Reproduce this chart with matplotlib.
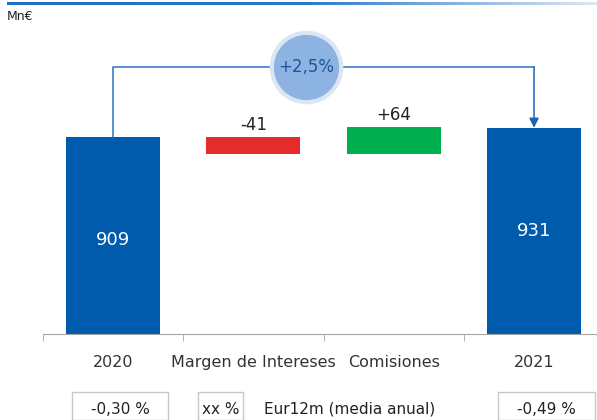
import matplotlib.pyplot as plt
import numpy as np
from matplotlib.patches import Rectangle
from matplotlib.colors import LinearSegmentedColormap

categories = ["2020", "Margen de Intereses", "Comisiones", "2021"]
start_value = 909
changes = [-41, 64]
end_value = 931
change_labels = ["-41", "+64"]
growth_label = "+2,5%"
unit_label = "Mn€"
rate_labels = ["-0,30 %", "-0,49 %"]
legend_box = "xx %"
legend_text = "Eur12m (media anual)"

blue = "#005BAC"
red = "#E52B2B"
green = "#00B050"
line_blue = "#2A72C3"

W, H = 597, 420
fig = plt.figure(figsize=(W / 100, H / 100), dpi=100)

# axes placed in pixel terms: left 43, baseline 334, top 20
ymin = 440
px_per_unit = 0.42
ax = fig.add_axes([43 / W, (H - 334) / H, (W - 43) / W, 314 / H])
ax.set_ylim(ymin, ymin + 314 / px_per_unit)
ax.set_xlim(-0.5, (W - 43) / 140.3 - 0.5)

x = np.arange(len(categories))
width = 0.67

# waterfall
ax.bar(x[0], start_value - ymin, bottom=ymin, width=width, color=blue)
level = start_value
colors = [red, green]
for i, (c, lab) in enumerate(zip(changes, change_labels)):
    lo, hi = sorted([level, level + c])
    ax.bar(x[i + 1], hi - lo, bottom=lo, width=width, color=colors[i])
    ax.text(x[i + 1], hi + 8, lab, ha="center", va="bottom",
            fontsize=12, color="#222222")
    level += c
ax.bar(x[3], end_value - ymin, bottom=ymin, width=width, color=blue)

ax.text(x[0], 664, str(start_value), ha="center", va="center",
        color="white", fontsize=13)
ax.text(x[3], 686, str(end_value), ha="center", va="center",
        color="white", fontsize=13)

# connector with arrow
y_conn = ymin + (334 - 67) / px_per_unit
ax.plot([x[0], x[0], x[3]], [start_value, y_conn, y_conn],
        color=line_blue, lw=1.1, zorder=3)
ax.annotate("", xy=(x[3], end_value), xytext=(x[3], y_conn),
            arrowprops=dict(arrowstyle="-|>", color="#1F62B0", lw=1.1,
                            mutation_scale=14, shrinkA=0, shrinkB=0),
            zorder=3)

# growth bubble
cx = -0.5 + (306 - 43) / 140.3
ax.plot(cx, y_conn, "o", ms=53, color="#DCE6F3", mec="none", zorder=4,
        clip_on=False)
ax.plot(cx, y_conn, "o", ms=47, color="#8DB3E2", mec="none", zorder=5,
        clip_on=False)
ax.text(cx, y_conn, growth_label, ha="center", va="center",
        fontsize=12, color="#1F5497", zorder=6)

# axis styling
for s in ["top", "right", "left"]:
    ax.spines[s].set_visible(False)
ax.spines["bottom"].set_color("#A6A6A6")
ax.set_yticks([])
ax.set_xticks(x)
ax.set_xticklabels(categories, fontsize=11.5, color="#333333")
ax.tick_params(axis="x", which="major", length=0, pad=15)
ax.set_xticks([-0.5, 0.5, 1.5, 2.5], minor=True)
ax.tick_params(axis="x", which="minor", length=5, color="#A6A6A6",
               direction="out")

# top gradient rule
top_ax = fig.add_axes([7 / W, (H - 5) / H, (W - 7) / W, 3 / H])
cmap = LinearSegmentedColormap.from_list("g", ["#1F6FC5", "#2A78C8", "#DCE8F5"])
top_ax.imshow(np.linspace(0, 1, 256)[None, :], aspect="auto", cmap=cmap)
top_ax.axis("off")

fig.text(7 / W, 1 - 17 / H, unit_label, fontsize=9, color="#222222",
         va="center", ha="left")

# bottom rate boxes
def box(x0, x1, label):
    fig.add_artist(Rectangle((x0 / W, 0), (x1 - x0) / W, (H - 392) / H,
                             transform=fig.transFigure, fill=True,
                             facecolor="white", edgecolor="#C8C8C8", lw=1))
    fig.text((x0 + x1) / 2 / W, 1 - 409 / H, label, ha="center",
             va="center", fontsize=11, color="#222222")

box(72, 168, rate_labels[0])
box(198, 243, legend_box)
box(498, 595, rate_labels[1])
fig.text(350 / W, 1 - 409 / H, legend_text, ha="center", va="center",
         fontsize=11, color="#222222")

fig.savefig("out.png", dpi=100)
